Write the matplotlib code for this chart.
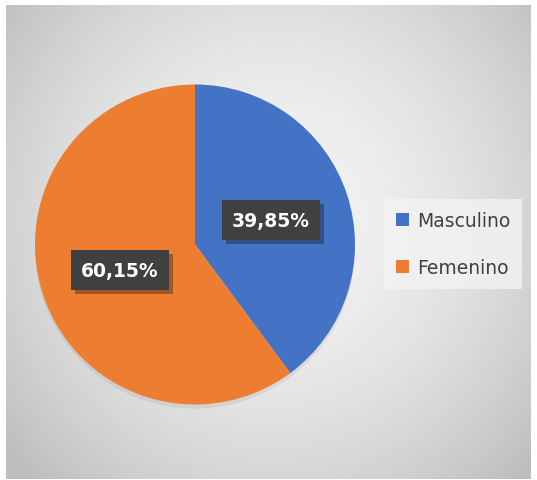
import numpy as np
import matplotlib
matplotlib.use("Agg")
import matplotlib.pyplot as plt
from matplotlib.patches import Patch
import matplotlib.patheffects as pe

# 数据
categories = ["Masculino", "Femenino"]
values = [39.85, 60.15]
labels = ["39,85%", "60,15%"]
colors = ["#4472C4", "#ED7D31"]

W, H = 537, 481
fig = plt.figure(figsize=(W / 100, H / 100), dpi=100)
fig.patch.set_facecolor("white")
ax = fig.add_axes([0, 0, 1, 1])

# 背景: 径向灰色渐变
x0, x1, yt, yb = 6, 531, 6, 480
xx, yy = np.meshgrid(np.linspace(x0, x1, 300), np.linspace(yt, yb, 300))
r = np.sqrt(((xx - 275) / 290) ** 2 + ((yy - 220) / 300) ** 2)
g = 0.955 - 0.15 * np.clip(r, 0, 1.2) ** 1.8
ax.imshow(np.dstack([g, g, g]), extent=(x0, x1, H - yb, H - yt),
          origin="upper", zorder=0, interpolation="bilinear")

# 饼图
cx, cy, R = 195, H - 245.5, 160
wedges, _ = ax.pie(values, colors=colors, startangle=90, counterclock=False,
                   center=(cx, cy), radius=R, frame=True,
                   wedgeprops=dict(linewidth=0))
for w in wedges:
    w.set_path_effects([pe.SimplePatchShadow(offset=(0, -3), alpha=0.08), pe.Normal()])
ax.set_xlim(0, W); ax.set_ylim(0, H)
ax.set_aspect("equal")
ax.axis("off")

# 数据标签
lab_pos = [(271, H - 221), (120, H - 271)]
for (lx, ly), t in zip(lab_pos, labels):
    txt = ax.text(lx, ly, t, ha="center", va="center", fontsize=13.5,
                  fontweight="bold", color="white", family="DejaVu Sans",
                  bbox=dict(boxstyle="square,pad=0.55", fc="#404040", ec="none"),
                  zorder=5)
    txt.get_bbox_patch().set_path_effects(
        [pe.SimplePatchShadow(offset=(3, -3), alpha=0.35), pe.Normal()])

# 图例
handles = [Patch(facecolor=c, edgecolor="none") for c in colors]
leg = ax.legend(handles, categories, loc="center left",
                bbox_to_anchor=(384 / W, 1 - 245 / H), bbox_transform=fig.transFigure,
                frameon=True, fancybox=False, labelspacing=1.5,
                handlelength=0.7, handleheight=0.7, handletextpad=0.4,
                borderpad=0.65, borderaxespad=0,
                prop=dict(family="DejaVu Sans", size=13.5))
leg.get_frame().set_facecolor("#f3f3f3")
leg.get_frame().set_edgecolor("none")
for t in leg.get_texts():
    t.set_color("#404040")

fig.savefig("out.png", dpi=100, facecolor="white")
